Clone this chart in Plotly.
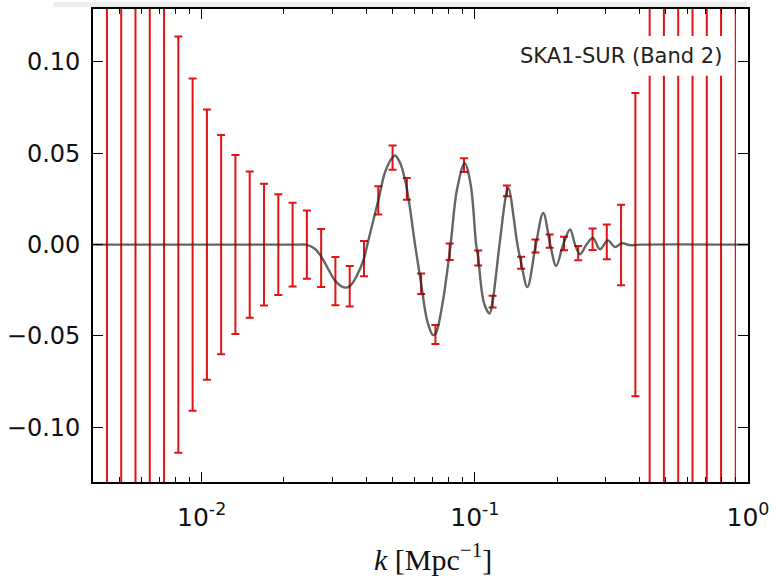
import math
import plotly.graph_objects as go

# Band-power bins (log-spaced k, Mpc^-1)
k_bins = [
    0.004498, 0.005074, 0.005723, 0.006454, 0.007281, 0.008212, 0.009263,
    0.01045, 0.01178, 0.01329, 0.01499, 0.01691, 0.01908, 0.02152, 0.02427,
    0.02737, 0.03087, 0.03482, 0.03928, 0.04431, 0.04998, 0.05638, 0.06359,
    0.07172, 0.08088, 0.09125, 0.1029, 0.1161, 0.1310, 0.1477, 0.1666,
    0.1879, 0.2120, 0.2390, 0.2697, 0.3041, 0.3430, 0.3870, 0.4365, 0.4922,
    0.5553, 0.6265, 0.7066, 0.7968, 0.8990,
]

# BAO wiggle amplitude at each bin centre
bin_values = [
    0.0, 0.0, 0.0, 0.0, 0.0, 0.0, 0.0, 0.0, 0.0, 0.0, 0.0, 0.0, 0.0, 0.0, 0.0,
    -0.0073, -0.0200, -0.0228, -0.0077, 0.0242, 0.0476, 0.0305, -0.0215,
    -0.0492, -0.0039, 0.0435, -0.0074, -0.0312, 0.0294, -0.0099, -0.0008,
    0.0019, 0.0006, -0.0047, 0.0029, 0.0015, -0.0002, 0.0, 0.0, 0.0,
    0.0, 0.0, 0.0, 0.0, 0.0,
]

# 1-sigma forecast errors for SKA1-SUR (Band 2)
bin_errors = [
    0.36, 0.29, 0.23, 0.18, 0.143, 0.114, 0.091, 0.074, 0.060, 0.049, 0.040,
    0.0333, 0.0276, 0.0229, 0.0187, 0.0159, 0.0132, 0.0111, 0.0096, 0.0077,
    0.0066, 0.0059, 0.0056, 0.0052, 0.0045, 0.0038, 0.0041, 0.0032, 0.0030,
    0.0033, 0.0036, 0.0036, 0.0037, 0.0039, 0.0059, 0.0095, 0.022, 0.083,
    0.31, 1.2, 4.6, 17.0, 65.0, 250.0, 950.0,
]

# Fiducial wiggle curve
k_curve = [
    0.004, 0.0229, 0.0240, 0.0258, 0.02737, 0.0292, 0.03087, 0.0333, 0.03482,
    0.0370, 0.03928, 0.0404, 0.04431, 0.0470, 0.04998, 0.0510, 0.0535,
    0.05638, 0.0604, 0.06359, 0.0670, 0.0702, 0.07172, 0.0760, 0.0815,
    0.0860, 0.0918, 0.0965, 0.1011, 0.1029, 0.1080, 0.1132, 0.1161, 0.1231,
    0.1310, 0.1327, 0.1432, 0.1477, 0.1557, 0.1672, 0.1780, 0.1888, 0.1985,
    0.2105, 0.2232, 0.2328, 0.2427, 0.2563, 0.2706, 0.2871, 0.3069, 0.3256,
    0.3454, 0.3683, 0.40, 1.0,
]
v_curve = [
    0.0, 0.0, 0.0, -0.0020, -0.0065, -0.0140, -0.0200, -0.0235, -0.0228,
    -0.0170, -0.0076, 0.0, 0.0242, 0.0400, 0.0478, 0.0488, 0.0440,
    0.0305, 0.0, -0.0215, -0.0420, -0.0495, -0.0490, -0.0330, 0.0,
    0.0300, 0.0446, 0.0330, 0.0, -0.0074, -0.0320, -0.0377, -0.0312, 0.0,
    0.0294, 0.0310, 0.0, -0.0099, -0.0232, 0.0, 0.0173, 0.0, -0.0117,
    0.0, 0.0083, 0.0, -0.0053, 0.0, 0.0037, -0.0026, 0.0023, -0.0013,
    0.0007, -0.0003, 0.0, 0.0,
]

x_tick_vals = [0.01, 0.1, 1.0]
x_tick_text = ["10<sup>-2</sup>", "10<sup>-1</sup>", "10<sup>0</sup>"]
y_tick_vals = [-0.10, -0.05, 0.0, 0.05, 0.10]
y_tick_text = ["\u22120.10", "\u22120.05", "0.00", "0.05", "0.10"]

RED = "#e01414"
CURVE = "rgba(35,35,35,0.70)"

fig = go.Figure()

# error bars (last bin drawn separately with a thinner stroke)
fig.add_trace(go.Scatter(
    x=k_bins[:-1], y=bin_values[:-1], mode="markers",
    marker=dict(size=1, color=RED),
    error_y=dict(type="data", array=bin_errors[:-1], visible=True,
                 color=RED, thickness=2, width=4),
    showlegend=False, hoverinfo="skip",
))
fig.add_trace(go.Scatter(
    x=k_bins[-1:], y=bin_values[-1:], mode="markers",
    marker=dict(size=1, color=RED),
    error_y=dict(type="data", array=bin_errors[-1:], visible=True,
                 color=RED, thickness=1.3, width=0),
    showlegend=False, hoverinfo="skip",
))

# fiducial curve on top
fig.add_trace(go.Scatter(
    x=k_curve, y=v_curve, mode="lines",
    line=dict(color=CURVE, width=2.4, shape="spline", smoothing=1.0),
    showlegend=False, hoverinfo="skip",
))

# plot-area geometry in pixels
W, H = 776, 576
L, R, T, B = 92, 751, 7, 482
pw, ph = R - L, B - T


def px(x):
    return (x - L) / pw


def py(y):
    return 1 - (y - T) / ph


# legend box (opaque) and label
fig.add_shape(type="rect", xref="paper", yref="paper",
              x0=px(515), x1=px(733), y0=py(74), y1=py(34),
              fillcolor="white", line=dict(width=0), layer="above")
fig.add_annotation(xref="paper", yref="paper", x=px(727), y=py(54),
                   xanchor="right", yanchor="middle", showarrow=False,
                   text="SKA1-SUR (Band 2)",
                   font=dict(family="DejaVu Sans", size=21, color="#222"))

# light strip above the frame
fig.add_shape(type="rect", xref="paper", yref="paper",
              x0=px(52), x1=px(750), y0=py(5), y1=py(0),
              fillcolor="#ececec", line=dict(width=0), layer="below")

# x-axis label
fig.add_annotation(xref="paper", yref="paper", x=px(434), y=py(557),
                   xanchor="center", yanchor="middle", showarrow=False,
                   text="<i>k</i> [Mpc<sup>\u22121</sup>]",
                   font=dict(family="Liberation Serif", size=30, color="#111"))

axis_common = dict(
    showline=True, linecolor="black", linewidth=1.6, mirror="allticks",
    ticks="inside", ticklen=10, tickwidth=1.4, tickcolor="black",
    showgrid=False, zeroline=False,
)

fig.update_xaxes(
    type="log", range=[math.log10(0.004), 0.0],
    tickvals=x_tick_vals, ticktext=x_tick_text,
    minor=dict(ticks="inside", ticklen=5, tickwidth=1.2, tickcolor="black",
               dtick="D1", showgrid=False),
    ticklabelstandoff=12,
    tickfont=dict(family="DejaVu Sans", size=25, color="#111"),
    **axis_common,
)
fig.update_yaxes(
    range=[-0.13, 0.129],
    tickvals=y_tick_vals, ticktext=y_tick_text,
    ticklabelstandoff=6,
    tickfont=dict(family="DejaVu Sans", size=24, color="#111"),
    **axis_common,
)

fig.update_layout(
    width=W, height=H,
    margin=dict(l=L, r=W - R, t=T, b=H - B),
    paper_bgcolor="white", plot_bgcolor="white",
)

fig.write_html("out.html")
